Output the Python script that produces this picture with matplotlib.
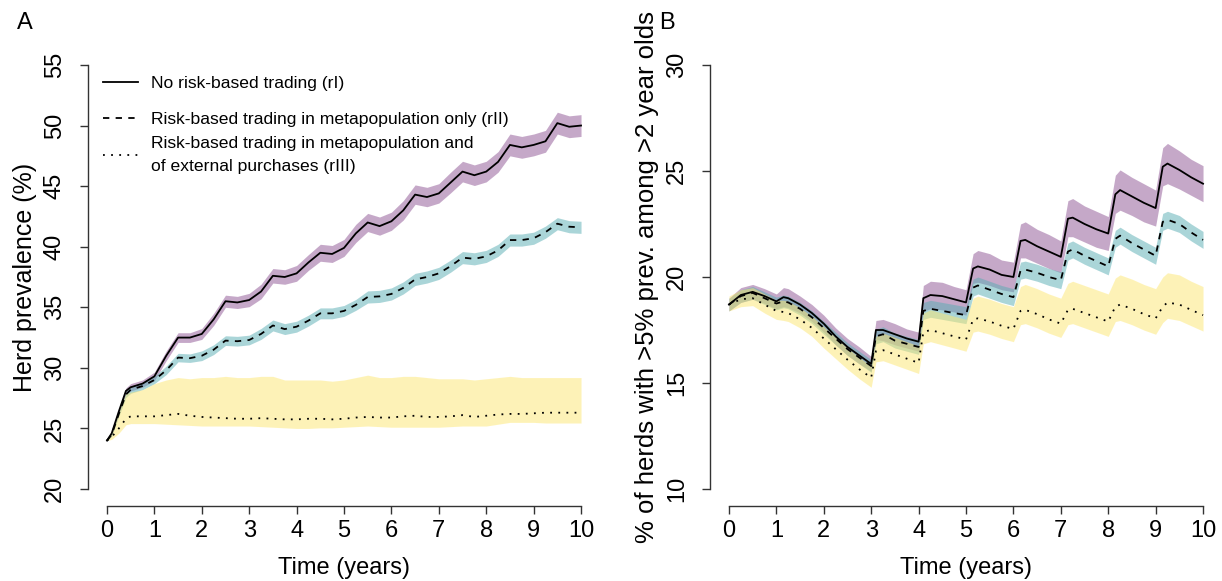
import numpy as np
import matplotlib
matplotlib.use("Agg")
import matplotlib.pyplot as plt
from matplotlib.legend import Legend

plt.rcParams['font.family'] = ['Liberation Sans', 'DejaVu Sans']

# ---------------- Panel A data ----------------
tA = [0, 0.1, 0.25, 0.4, 0.5, 0.75, 1.0, 1.25, 1.5, 1.75, 2.0, 2.25, 2.5, 2.75, 3.0,
      3.25, 3.5, 3.75, 4.0, 4.25, 4.5, 4.75, 5.0, 5.25, 5.5, 5.75, 6.0, 6.25, 6.5, 6.75,
      7.0, 7.25, 7.5, 7.75, 8.0, 8.25, 8.5, 8.75, 9.0, 9.25, 9.5, 9.75, 10.0]

rI_A = [24.0, 24.6, 26.4, 28.1, 28.4, 28.7, 29.3, 31.0, 32.5, 32.5, 32.8, 34.0, 35.5, 35.4, 35.6,
        36.3, 37.6, 37.5, 37.8, 38.7, 39.5, 39.4, 39.9, 41.1, 42.0, 41.7, 42.1, 43.0, 44.3, 44.1,
        44.4, 45.3, 46.2, 45.9, 46.2, 47.0, 48.4, 48.2, 48.4, 48.7, 50.2, 49.9, 50.0]
rI_A_hw = [0.05, 0.15, 0.2, 0.25, 0.3, 0.3, 0.35, 0.4, 0.4, 0.4, 0.45, 0.5, 0.5, 0.5, 0.55,
           0.6, 0.6, 0.6, 0.65, 0.65, 0.7, 0.7, 0.7, 0.75, 0.75, 0.75, 0.75, 0.8, 0.8, 0.8,
           0.8, 0.85, 0.85, 0.85, 0.85, 0.85, 0.9, 0.9, 0.9, 0.9, 0.9, 0.9, 0.9]

rII_A = [24.0, 24.5, 26.2, 27.8, 28.2, 28.5, 29.0, 29.8, 30.85, 30.8, 31.0, 31.5, 32.25, 32.2, 32.3,
         32.8, 33.5, 33.2, 33.4, 33.9, 34.5, 34.5, 34.7, 35.2, 35.85, 35.9, 36.1, 36.6, 37.3, 37.5,
         37.8, 38.4, 39.1, 39.0, 39.2, 39.7, 40.55, 40.55, 40.7, 41.2, 41.9, 41.65, 41.6]
rII_A_hw = [0.05, 0.15, 0.2, 0.25, 0.3, 0.3, 0.3, 0.35, 0.35, 0.35, 0.4, 0.4, 0.4, 0.4, 0.4,
            0.45, 0.45, 0.45, 0.45, 0.45, 0.45, 0.45, 0.45, 0.45, 0.5, 0.5, 0.5, 0.5, 0.5, 0.5,
            0.5, 0.5, 0.5, 0.5, 0.5, 0.5, 0.5, 0.5, 0.5, 0.5, 0.5, 0.5, 0.5]

rIII_A = [24.0, 24.3, 25.0, 25.8, 26.0, 26.0, 26.0, 26.1, 26.2, 26.05, 25.95, 25.9, 25.85, 25.8, 25.8,
          25.85, 25.8, 25.75, 25.75, 25.8, 25.8, 25.75, 25.8, 25.9, 25.95, 25.9, 25.9, 26.0, 26.05, 25.95,
          25.95, 26.0, 26.1, 25.95, 26.05, 26.15, 26.2, 26.2, 26.25, 26.3, 26.3, 26.3, 26.3]
rIII_A_up = [24.0, 24.6, 26.4, 27.9, 28.0, 28.2, 28.7, 29.0, 29.2, 29.1, 29.2, 29.2, 29.3, 29.2, 29.2,
             29.3, 29.3, 29.0, 29.0, 29.0, 29.0, 28.9, 29.0, 29.2, 29.4, 29.2, 29.2, 29.3, 29.3, 29.2,
             29.1, 29.1, 29.1, 29.0, 29.1, 29.2, 29.3, 29.2, 29.2, 29.2, 29.2, 29.2, 29.2]
rIII_A_lo = [24.0, 24.1, 24.6, 25.3, 25.4, 25.4, 25.4, 25.35, 25.3, 25.25, 25.2, 25.2, 25.2, 25.2, 25.2,
             25.15, 25.1, 25.05, 25.0, 25.0, 25.05, 25.05, 25.1, 25.15, 25.2, 25.15, 25.1, 25.1, 25.1, 25.1,
             25.1, 25.15, 25.2, 25.2, 25.2, 25.35, 25.5, 25.5, 25.5, 25.45, 25.45, 25.45, 25.45]

# ---------------- Panel B data ----------------
tB = [0, 0.25, 0.5, 0.75, 1.0, 1.15, 1.25, 1.5, 1.75, 2.0, 2.25, 2.5, 2.75, 3.0, 3.1,
      3.25, 3.5, 3.75, 4.0, 4.1, 4.25, 4.5, 4.75, 5.0, 5.15, 5.25, 5.5, 5.75, 6.0, 6.15,
      6.25, 6.5, 6.75, 7.0, 7.15, 7.25, 7.5, 7.75, 8.0, 8.15, 8.25, 8.5, 8.75, 9.0, 9.15,
      9.25, 9.5, 9.75, 10.0]

rI_B = [18.7, 19.15, 19.3, 19.1, 18.85, 19.05, 19.0, 18.7, 18.3, 17.8, 17.2, 16.7, 16.3, 15.9, 17.5,
        17.5, 17.3, 17.1, 16.95, 19.0, 19.15, 19.1, 18.95, 18.8, 20.4, 20.5, 20.35, 20.1, 20.0, 21.7,
        21.75, 21.45, 21.2, 20.95, 22.75, 22.8, 22.5, 22.25, 22.05, 23.9, 24.1, 23.8, 23.5, 23.25, 25.2,
        25.35, 25.05, 24.7, 24.4]
rI_B_hw = [0.3, 0.35, 0.35, 0.35, 0.35, 0.45, 0.45, 0.4, 0.4, 0.4, 0.4, 0.4, 0.4, 0.35, 0.45,
           0.5, 0.5, 0.45, 0.45, 0.6, 0.65, 0.65, 0.6, 0.6, 0.7, 0.75, 0.75, 0.7, 0.7, 0.8,
           0.85, 0.8, 0.8, 0.75, 0.85, 0.9, 0.85, 0.85, 0.8, 0.9, 0.95, 0.9, 0.9, 0.85, 0.9,
           0.95, 0.9, 0.85, 0.85]

rII_B = [18.7, 19.1, 19.25, 19.0, 18.75, 18.85, 18.8, 18.5, 18.1, 17.6, 17.1, 16.6, 16.2, 15.8, 17.2,
         17.3, 17.0, 16.85, 16.7, 18.4, 18.5, 18.4, 18.3, 18.2, 19.5, 19.6, 19.4, 19.2, 19.05, 20.3,
         20.35, 20.2, 20.0, 19.85, 21.2, 21.3, 21.0, 20.75, 20.5, 21.8, 21.95, 21.6, 21.3, 21.0, 22.6,
         22.7, 22.5, 22.1, 21.75]
rII_B_hw = [0.3, 0.3, 0.3, 0.3, 0.3, 0.3, 0.3, 0.3, 0.3, 0.3, 0.3, 0.3, 0.3, 0.3, 0.35,
            0.35, 0.35, 0.35, 0.35, 0.4, 0.4, 0.4, 0.4, 0.4, 0.4, 0.4, 0.4, 0.4, 0.4, 0.4,
            0.4, 0.4, 0.4, 0.4, 0.4, 0.4, 0.4, 0.4, 0.4, 0.4, 0.4, 0.4, 0.4, 0.4, 0.4,
            0.4, 0.4, 0.4, 0.4]

rIII_B = [18.7, 18.95, 19.0, 18.7, 18.4, 18.35, 18.3, 18.0, 17.6, 17.1, 16.6, 16.1, 15.65, 15.25, 16.5,
          16.55, 16.35, 16.15, 15.95, 17.4, 17.5, 17.35, 17.2, 17.05, 18.0, 18.05, 17.9, 17.7, 17.55, 18.4,
          18.45, 18.25, 18.0, 17.8, 18.45, 18.5, 18.3, 18.1, 17.9, 18.6, 18.7, 18.5, 18.25, 18.05, 18.6,
          18.8, 18.7, 18.45, 18.2]
rIII_B_up = [0.4, 0.45, 0.5, 0.5, 0.5, 0.55, 0.55, 0.55, 0.55, 0.55, 0.55, 0.55, 0.55, 0.55, 0.7,
             0.8, 0.8, 0.8, 0.8, 0.9, 0.95, 0.95, 0.95, 0.95, 1.0, 1.05, 1.05, 1.05, 1.05, 1.15,
             1.2, 1.2, 1.2, 1.2, 1.25, 1.3, 1.3, 1.3, 1.3, 1.35, 1.4, 1.4, 1.4, 1.4, 1.4,
             1.4, 1.4, 1.35, 1.35]
rIII_B_lo = [0.3, 0.35, 0.35, 0.4, 0.4, 0.4, 0.4, 0.4, 0.4, 0.45, 0.45, 0.45, 0.45, 0.45, 0.5,
             0.5, 0.5, 0.5, 0.5, 0.55, 0.55, 0.55, 0.55, 0.55, 0.6, 0.6, 0.6, 0.6, 0.6, 0.65,
             0.65, 0.65, 0.65, 0.65, 0.7, 0.7, 0.7, 0.7, 0.7, 0.7, 0.75, 0.75, 0.75, 0.75, 0.75,
             0.75, 0.75, 0.75, 0.75]

x_ticks = list(range(0, 11))
yA_ticks = [20, 25, 30, 35, 40, 45, 50, 55]
yB_ticks = [10, 15, 20, 25, 30]

labels = ["No risk-based trading (rI)",
          "Risk-based trading in metapopulation only (rII)",
          "Risk-based trading in metapopulation and\nof external purchases (rIII)"]

# ---------------- styles ----------------
C_PURPLE = '#8D5393'
C_TEAL = '#57ADB3'
C_YELLOW = '#FDE771'
BAND_ALPHA = 0.5
LW = 1.3
LS_SOLID = '-'
LS_DASH = (0, (3.5, 3.5))
LS_DOT = (0, (1.0, 3.5))
FS = 17

W, H = 1222, 581
AX_TOP, AX_BOT = 48, 506
fig = plt.figure(figsize=(W / 100, H / 100), dpi=100)
axA = fig.add_axes([88 / W, (H - AX_BOT) / H, (600 - 88) / W, (AX_BOT - AX_TOP) / H])
axB = fig.add_axes([710 / W, (H - AX_BOT) / H, (1222 - 710) / W, (AX_BOT - AX_TOP) / H])


def band(ax, t, lo, hi, color):
    ax.fill_between(t, lo, hi, color=color, alpha=BAND_ALPHA, linewidth=0)


def style_axes(ax, yticks):
    ax.set_xlim(-0.4, 10.4)
    pad = (yticks[-1] - yticks[0]) * 0.04
    ax.set_ylim(yticks[0] - pad, yticks[-1] + pad)
    ax.set_xticks(x_ticks)
    ax.set_yticks(yticks)
    for s in ['top', 'right']:
        ax.spines[s].set_visible(False)
    ax.spines['bottom'].set_bounds(x_ticks[0], x_ticks[-1])
    ax.spines['left'].set_bounds(yticks[0], yticks[-1])
    for s in ['bottom', 'left']:
        ax.spines[s].set_linewidth(1.0)
        ax.spines[s].set_color('#333333')
    ax.tick_params(axis='both', direction='out', length=6, width=1.0, color='#333333',
                   labelsize=FS, pad=4)
    ax.tick_params(axis='y', pad=10)
    for lab in ax.get_yticklabels():
        lab.set_rotation(90)
        lab.set_va('center')
    ax.set_xlabel("Time (years)", fontsize=FS, labelpad=11)


# Panel A
tA_ = np.array(tA)
band(axA, tA_, np.array(rI_A) - np.array(rI_A_hw), np.array(rI_A) + np.array(rI_A_hw), C_PURPLE)
band(axA, tA_, np.array(rII_A) - np.array(rII_A_hw), np.array(rII_A) + np.array(rII_A_hw), C_TEAL)
band(axA, tA_, rIII_A_lo, rIII_A_up, C_YELLOW)
hA1, = axA.plot(tA_, rI_A, color='black', lw=LW, ls=LS_SOLID)
hA2, = axA.plot(tA_, rII_A, color='black', lw=LW, ls=LS_DASH)
hA3, = axA.plot(tA_, rIII_A, color='black', lw=LW, ls=LS_DOT)
style_axes(axA, yA_ticks)
axA.set_ylabel("Herd prevalence (%)", fontsize=18)
axA.yaxis.set_label_coords(-0.100, 0.5)

# legend: one row per entry, vertically placed like the reference
row_centers_px = [83, 119, 155]
for h, lab, yc in zip([hA1, hA2, hA3], labels, row_centers_px):
    leg = Legend(axA, [h], [lab], loc='center left',
                 bbox_to_anchor=(0.030, (AX_BOT - yc) / (AX_BOT - AX_TOP)),
                 frameon=False, fontsize=12.6, handlelength=2.0, handletextpad=0.75,
                 borderpad=0, borderaxespad=0)
    for t in leg.get_texts():
        t.set_linespacing(1.6)
    axA.add_artist(leg)

# Panel B
tB_ = np.array(tB)
band(axB, tB_, np.array(rI_B) - np.array(rI_B_hw), np.array(rI_B) + np.array(rI_B_hw), C_PURPLE)
band(axB, tB_, np.array(rII_B) - np.array(rII_B_hw), np.array(rII_B) + np.array(rII_B_hw), C_TEAL)
band(axB, tB_, np.array(rIII_B) - np.array(rIII_B_lo), np.array(rIII_B) + np.array(rIII_B_up), C_YELLOW)
axB.plot(tB_, rI_B, color='black', lw=LW, ls=LS_SOLID)
axB.plot(tB_, rII_B, color='black', lw=LW, ls=LS_DASH)
axB.plot(tB_, rIII_B, color='black', lw=LW, ls=LS_DOT)
style_axes(axB, yB_ticks)
axB.set_ylabel("% of herds with >5% prev. among >2 year olds", fontsize=18.5)
axB.yaxis.set_label_coords(-0.100, 0.5)

fig.text(25 / W, 1 - 23 / H, "A", fontsize=17, ha='center', va='center')
fig.text(667 / W, 1 - 23 / H, "B", fontsize=17, ha='center', va='center')

fig.savefig("out.png", dpi=100)
